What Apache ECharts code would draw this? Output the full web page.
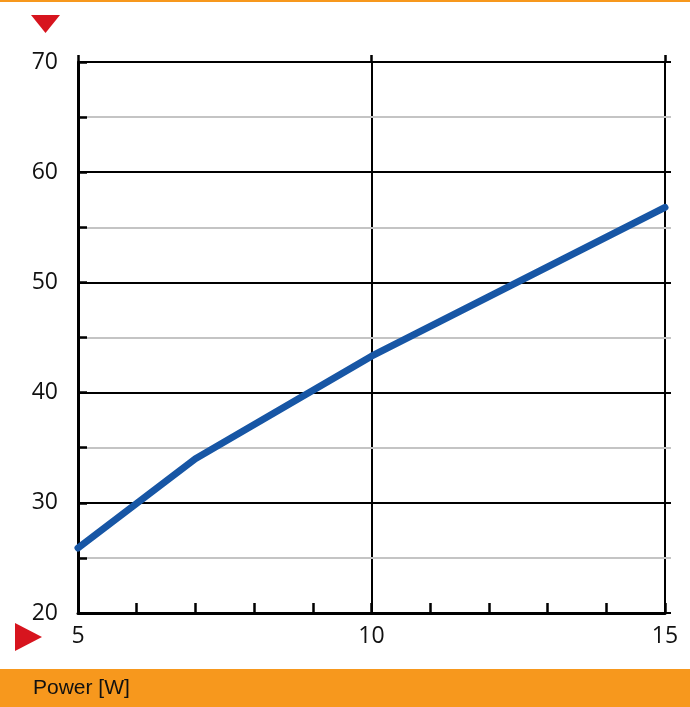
<!DOCTYPE html>
<html>
<head>
<meta charset="utf-8">
<script src="https://cdn.jsdelivr.net/npm/echarts@6/dist/echarts.min.js"></script>
<style>
html, body { margin: 0; padding: 0; background: #fff; }
#chart1 { width: 690px; height: 707px; }
</style>
</head>
<body>
<div id="chart1"></div>
<script>
// 数据
var powerW = [5, 7, 10, 15];
var valueY = [25.9, 34.0, 43.3, 56.8];
var xLabels = [5, 10, 15];
var yLabels = [20, 30, 40, 50, 60, 70];
var xTitle = "Power [W]";

var orange = "#f7981d";
var red = "#d7141e";
var blue = "#1756a5";

var chart = echarts.init(document.getElementById("chart1"));

var seriesData = [];
for (let i = 0; i < powerW.length; i++) {
	seriesData.push([powerW[i], valueY[i]]);
}

var labelFont = {
	fontFamily: "Open Sans",
	fontSize: 23,
	color: "#111"
};

var option = {
	animation: false,
	grid: { left: 78, right: 25, top: 62, bottom: 94 },
	xAxis: [{
		// 主横轴，小刻度每 1
		type: "value",
		min: 5, max: 15, interval: 1,
		position: "bottom",
		axisLine: { show: true, lineStyle: { color: "#000", width: 3 } },
		axisTick: { show: true, inside: true, length: 10, lineStyle: { color: "#000", width: 2.5 } },
		axisLabel: Object.assign({
			margin: 12,
			formatter: function (v) {
				return xLabels.indexOf(v) >= 0 ? String(v) : "";
			}
		}, labelFont),
		splitLine: { show: false },
		z: 5
	}, {
		// 竖向网格线
		type: "value",
		min: 5, max: 15, interval: 5,
		position: "bottom",
		axisLine: { show: false },
		axisTick: { show: false },
		axisLabel: { show: false },
		splitLine: { show: true, lineStyle: { color: "#000", width: 2 } }
	}, {
		// 顶部外伸
		type: "value",
		min: 5, max: 15, interval: 5,
		position: "top",
		axisLine: { show: false },
		axisTick: { show: true, length: 7, lineStyle: { color: "#000", width: 2.5 } },
		axisLabel: { show: false },
		splitLine: { show: false }
	}],
	yAxis: [{
		type: "value",
		min: 20, max: 70, interval: 5,
		position: "left",
		axisLine: { show: true, lineStyle: { color: "#000", width: 3 } },
		axisTick: { show: true, inside: true, length: 9, lineStyle: { color: "#000", width: 2.5 } },
		axisLabel: Object.assign({
			margin: 20,
			formatter: function (v) {
				return yLabels.indexOf(v) >= 0 ? String(v) : "";
			}
		}, labelFont),
		splitLine: { show: true, lineStyle: { color: ["#000", "#c4c4c4"], width: 2 } },
		z: 5
	}, {
		// 右侧外伸 (灰)
		type: "value",
		min: 20, max: 70, interval: 5,
		position: "right",
		axisLine: { show: false },
		axisTick: { show: true, length: 6, lineStyle: { color: "#c4c4c4", width: 2 } },
		axisLabel: { show: false },
		splitLine: { show: false }
	}, {
		// 右侧外伸 (黑)
		type: "value",
		min: 20, max: 70, interval: 10,
		position: "right",
		axisLine: { show: false },
		axisTick: { show: true, length: 6, lineStyle: { color: "#000", width: 2 } },
		axisLabel: { show: false },
		splitLine: { show: false }
	}],
	series: [{
		type: "line",
		xAxisIndex: 0,
		yAxisIndex: 0,
		data: seriesData,
		symbol: "none",
		smooth: false,
		lineStyle: { color: blue, width: 7, cap: "round", join: "round" },
		z: 10
	}],
	graphic: [
		{ type: "rect", left: 0, top: 0, shape: { width: 690, height: 2 }, style: { fill: orange } },
		{ type: "rect", left: 0, top: 669, shape: { width: 690, height: 38 }, style: { fill: orange } },
		{
			type: "text", left: 33, top: 678,
			style: { text: xTitle, fill: "#111", font: "21px 'Liberation Sans', Arial, sans-serif" }
		},
		{ type: "polygon", shape: { points: [[31, 15], [60, 15], [45.5, 33]] }, style: { fill: red } },
		{ type: "polygon", shape: { points: [[15, 623], [42, 637], [15, 651]] }, style: { fill: red } }
	]
};

chart.setOption(option);
</script>
</body>
</html>
